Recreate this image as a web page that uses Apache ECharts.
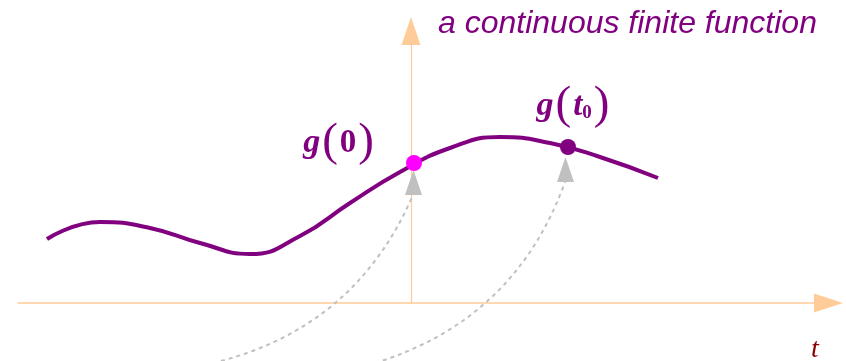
<!DOCTYPE html>
<html>
<head>
<meta charset="utf-8">
<script src="https://cdn.jsdelivr.net/npm/echarts@6/dist/echarts.min.js"></script>
<style>
  html, body { margin: 0; padding: 0; background: #fff; }
  #chart { width: 846px; height: 361px; }
</style>
</head>
<body>
<div id="chart"></div>
<script>
// the continuous function g(t)
const curveT = [-3.64, -3.11, -2.61, -2.11, -1.61, -1.11, -0.61, -0.11, 0.39, 0.89, 1.39, 1.89, 2.47];
const curveG = [0.64, 0.81, 0.75, 0.60, 0.49, 0.67, 1.00, 1.31, 1.55, 1.66, 1.60, 1.46, 1.25];

// marked points g(0) and g(t0)
const pointG0 = [0.03, 1.40];
const pointGt0 = [1.57, 1.56];

// grey arrow heads and the dashed paths leading to them
const arrowHeads = [[0.025, 1.205], [1.545, 1.335]];
const dashedPaths = [
  [[-1.98, -0.60], [0.02, 1.08]],
  [[-0.36, -0.60], [1.54, 1.21]]
];

const purple = '#800080';
const axisColor = '#FFCC99';
const serif = 'Liberation Serif';

const chart = echarts.init(document.getElementById('chart'));

const labelRich = {
  g: { fontFamily: serif, fontStyle: 'italic', fontWeight: 'bold', fontSize: 34, color: purple },
  p: { fontFamily: serif, fontSize: 47, color: purple, padding: [0, 2, 0, 2] },
  n: { fontFamily: serif, fontWeight: 'bold', fontSize: 33, color: purple },
  t: { fontFamily: serif, fontStyle: 'italic', fontWeight: 'bold', fontSize: 33, color: purple },
  s: { fontFamily: serif, fontWeight: 'bold', fontSize: 19, color: purple, padding: [14, 0, 0, 0] }
};

chart.setOption({
  animation: false,
  title: {
    text: 'a continuous finite function',
    left: 433,
    top: 3,
    textStyle: {
      fontFamily: 'Liberation Sans',
      fontStyle: 'italic',
      fontWeight: 'normal',
      fontSize: 32,
      color: purple
    }
  },
  graphic: [{
    type: 'text',
    left: 811,
    top: 336,
    style: { text: 't', font: 'italic 28px "Liberation Serif"', fill: '#8B0000' }
  }],
  grid: { left: 18, right: 17.5, top: 31, bottom: 58 },
  xAxis: {
    type: 'value',
    min: -3.93,
    max: 4.175,
    axisLine: {
      onZero: true,
      symbol: ['none', 'triangle'],
      symbolSize: [19, 29],
      lineStyle: { color: axisColor, width: 1.5 }
    },
    axisTick: { show: false },
    axisLabel: { show: false },
    splitLine: { show: false }
  },
  yAxis: {
    type: 'value',
    min: 0,
    max: 2.72,
    axisLine: {
      show: true,
      onZero: true,
      symbol: ['none', 'triangle'],
      symbolSize: [19, 28],
      lineStyle: { color: axisColor, width: 1.2 }
    },
    axisTick: { show: false },
    axisLabel: { show: false },
    splitLine: { show: false }
  },
  series: [
    {
      type: 'lines',
      coordinateSystem: 'cartesian2d',
      clip: false,
      symbol: 'none',
      lineStyle: { color: '#C0C0C0', width: 2, type: [4, 4], curveness: -0.25, opacity: 1 },
      data: dashedPaths.map(c => ({ coords: c })),
      z: 1
    },
    {
      type: 'scatter',
      symbol: 'triangle',
      symbolSize: [17, 25],
      itemStyle: { color: '#C0C0C0', opacity: 1 },
      data: arrowHeads,
      z: 2
    },
    {
      type: 'line',
      smooth: 0.5,
      symbol: 'none',
      lineStyle: { color: purple, width: 4 },
      data: curveT.map((t, i) => [t, curveG[i]]),
      z: 3
    },
    {
      type: 'scatter',
      symbolSize: 16,
      itemStyle: { opacity: 1 },
      z: 4,
      data: [
        {
          value: pointG0,
          itemStyle: { color: '#FF00FF', opacity: 1 },
          label: {
            show: true,
            position: [-30, -12],
            align: 'right',
            verticalAlign: 'middle',
            formatter: '{g|g}{p|(}{n|0}{p|)}',
            rich: labelRich
          }
        },
        {
          value: pointGt0,
          itemStyle: { color: purple, opacity: 1 },
          label: {
            show: true,
            position: [14, -33],
            align: 'center',
            verticalAlign: 'middle',
            formatter: '{g|g}{p|(}{t|t}{s|0}{p|)}',
            rich: labelRich
          }
        }
      ]
    }
  ]
});
</script>
</body>
</html>
